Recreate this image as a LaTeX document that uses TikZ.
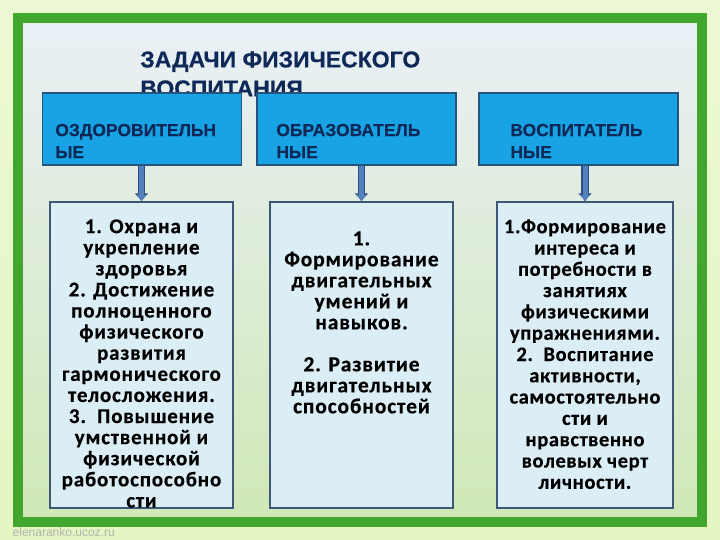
\documentclass[tikz,border=0pt]{standalone}
\usepackage{fontspec}
\setmainfont{Carlito}
\newfontfamily\headfont{Liberation Sans}
\usetikzlibrary{arrows.meta}
\definecolor{navytext}{RGB}{14,40,88}
\definecolor{headfill}{RGB}{24,163,228}
\definecolor{headline}{RGB}{38,84,124}
\definecolor{lowfill}{RGB}{219,237,245}
\definecolor{lowline}{RGB}{60,88,118}
\definecolor{framegreen}{RGB}{66,166,46}
\definecolor{arrowfill}{RGB}{84,128,190}
\definecolor{arrowline}{RGB}{46,80,128}
\tikzset{> = Latex, every picture/.style={line width=0.7pt}}
\tikzset{arrowpath/.style={draw=arrowfill, line width=5pt,
    -{Latex[length=6.5pt,width=12pt]},
    preaction={draw=arrowline, line width=7.5pt, -{Latex[length=8pt,width=14.5pt]}}}}

\begin{document}
\begin{tikzpicture}[x=1pt,y=-1pt]
\useasboundingbox (0,0) rectangle (720,540);
% page and frame
\fill[top color={rgb,255:red,236;green,248;blue,212}, bottom color={rgb,255:red,228;green,246;blue,194}] (0,0) rectangle (720,540);
\fill[top color={rgb,255:red,234;green,240;blue,247}, middle color={rgb,255:red,232;green,241;blue,234}, bottom color={rgb,255:red,208;green,232;blue,182}] (18,18) rectangle (702,522);
\draw[framegreen, line width=10pt] (18,18) rectangle (702,522);
\node[anchor=west, text=black!30, font=\headfont\fontsize{12}{14}\selectfont] (site) at (9,532) {elenaranko.ucoz.ru};

% title
\node[anchor=north west, align=left, inner sep=0pt, text=navytext,
      font=\headfont\bfseries\fontsize{23}{29}\selectfont\addfontfeature{FakeBold=0.5}] (title) at (140,51)
      {ЗАДАЧИ ФИЗИЧЕСКОГО\\ВОСПИТАНИЯ};

\begin{scope}[every node/.style={rectangle, draw=headline, fill=headfill, line width=1.2pt,
    minimum width=199pt, minimum height=72pt, inner sep=0pt}]
\node (h1) at (142,129) {};
\node (h2) at (356.5,129) {};
\node (h3) at (578.5,129) {};
\end{scope}

\begin{scope}[every node/.style={anchor=west, align=left, inner sep=0pt, text=navytext,
    font=\headfont\bfseries\fontsize{17.5}{22}\selectfont\addfontfeature{FakeBold=0.3}}]
\node (h1t) at (55,141) {ОЗДОРОВИТЕЛЬН\\ЫЕ};
\node (h2t) at (276,141) {ОБРАЗОВАТЕЛЬ\\НЫЕ};
\node (h3t) at (510,141) {ВОСПИТАТЕЛЬ\\НЫЕ};
\end{scope}

\begin{scope}[every node/.style={rectangle, draw=lowline, fill=lowfill, line width=1.2pt,
    minimum height=306pt, inner sep=0pt}]
\node[minimum width=183pt] (b1) at (141.5,355) {};
\node[minimum width=183pt] (b2) at (361.5,355) {};
\node[minimum width=176pt] (b3) at (585,355) {};
\end{scope}

\begin{scope}[every node/.style={anchor=north, align=center, inner sep=0pt}]
\node[font=\bfseries\fontsize{21}{21.1}\selectfont\addfontfeature{LetterSpace=4,FakeBold=0.4}] (b1t) at (141.5,219)
  {1. Охрана и\\укрепление\\здоровья\\2. Достижение\\полноценного\\физического\\развития\\гармонического\\телосложения.\\3.~~Повышение\\умственной и\\физической\\работоспособно\\сти};
\node[font=\bfseries\fontsize{21.5}{21}\selectfont\addfontfeature{LetterSpace=4,FakeBold=0.4}] (b2t) at (361.5,231)
  {1.\\Формирование\\двигательных\\умений и\\навыков.\\[21pt]2. Развитие\\двигательных\\способностей};
\node[font=\bfseries\fontsize{20.5}{21.3}\selectfont\addfontfeature{LetterSpace=3,FakeBold=0.4}] (b3t) at (585,219)
  {1.Формирование\\интереса и\\потребности в\\занятиях\\физическими\\упражнениями.\\2.~~Воспитание\\активности,\\самостоятельно\\сти и\\нравственно\\волевых черт\\личности.};
\end{scope}

\draw[arrowpath] (b1.north |- h1.south) -- (b1.north);
\draw[arrowpath] (b2.north |- h2.south) -- (b2.north);
\draw[arrowpath] (b3.north |- h3.south) -- (b3.north);
\end{tikzpicture}
\end{document}
